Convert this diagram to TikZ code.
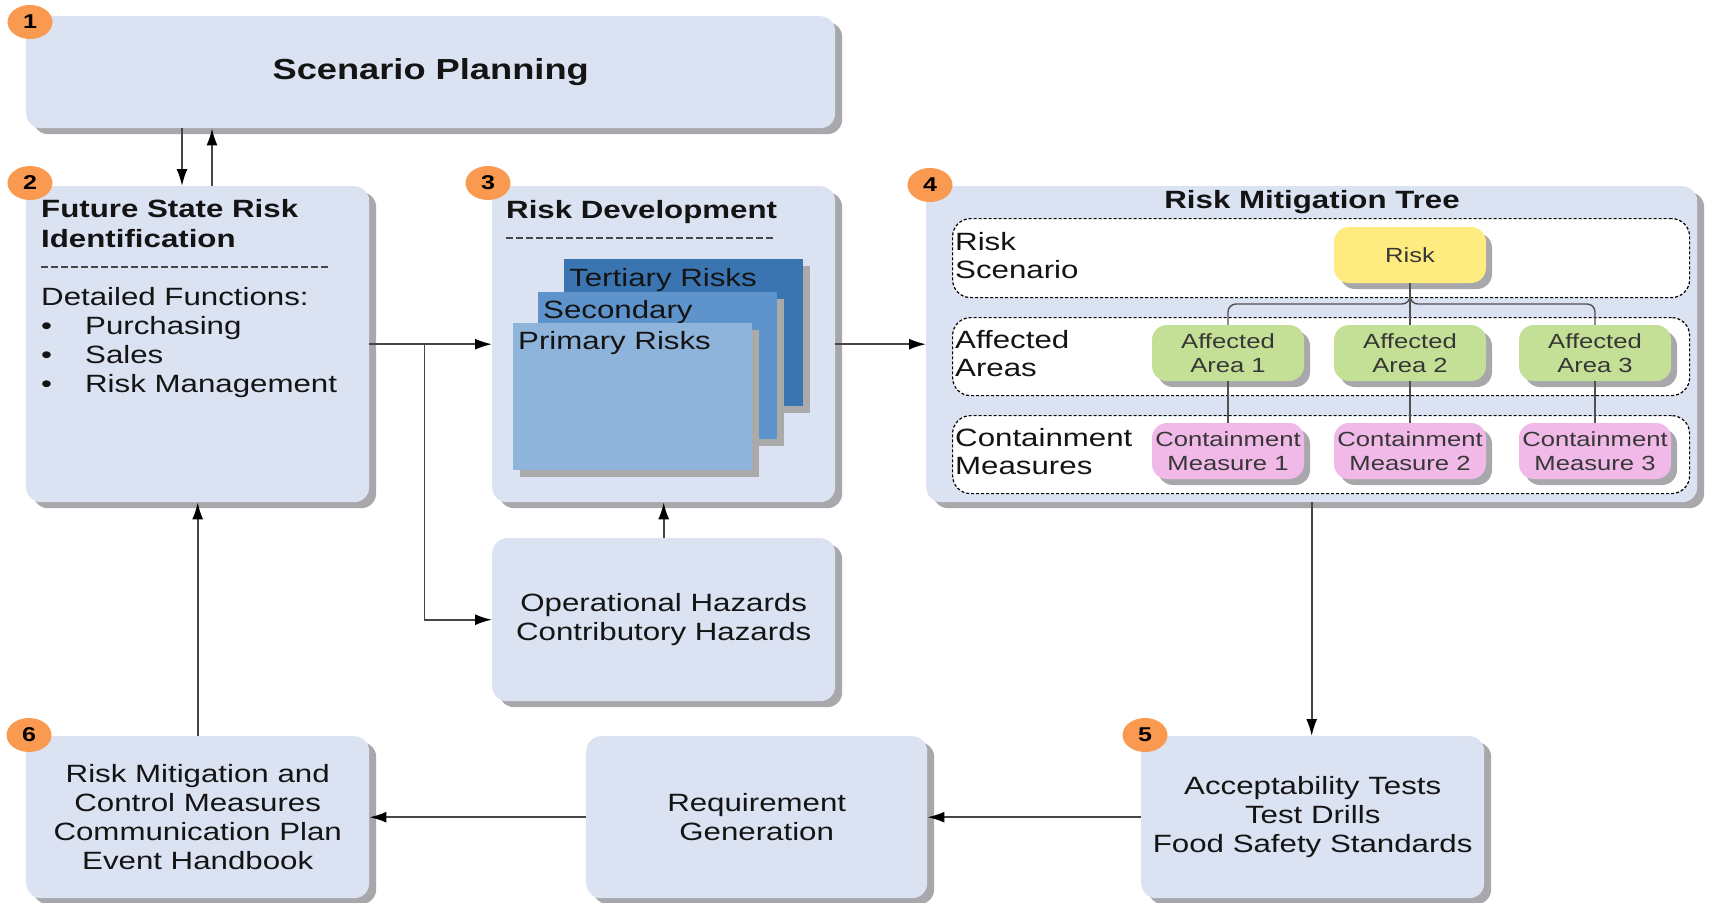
\documentclass[tikz,border=0pt]{standalone}
\usepackage{fontspec}
\setmainfont{Liberation Sans}[FakeStretch=1.25]
\usetikzlibrary{arrows.meta,shapes.geometric,shadows,calc}

\definecolor{boxfill}{RGB}{219,226,242}
\definecolor{boxshadow}{RGB}{168,168,172}
\definecolor{layershadow}{RGB}{170,170,170}
\definecolor{badgefill}{RGB}{250,154,80}
\definecolor{tertblue}{RGB}{58,117,178}
\definecolor{secblue}{RGB}{94,148,203}
\definecolor{primblue}{RGB}{142,180,220}
\definecolor{riskyellow}{RGB}{255,236,128}
\definecolor{areagreen}{RGB}{196,224,150}
\definecolor{measpink}{RGB}{240,185,232}
\definecolor{treegray}{RGB}{80,80,80}
\definecolor{flowgray}{RGB}{70,70,70}
\definecolor{sepgray}{RGB}{70,70,70}
\definecolor{inktext}{RGB}{20,20,20}
\newcommand{\bulitem}{\makebox[44pt][l]{\textbullet}}

\tikzset{
	stage/.style={rectangle, fill=boxfill, rounded corners=15pt, anchor=north west,
		inner sep=0pt, align=center, text=inktext, font=\fontsize{25}{29}\selectfont,
		drop shadow={shadow xshift=7pt, shadow yshift=-6pt, fill=boxshadow, opacity=1}},
	badge/.style={ellipse, fill=badgefill, draw=none,
		minimum width=45pt, minimum height=34pt, inner sep=0pt,
		font=\bfseries\fontsize{20}{20}\selectfont},
	layer/.style={rectangle, anchor=north west, minimum width=239pt, minimum height=147pt,
		drop shadow={shadow xshift=7pt, shadow yshift=-7pt, fill=layershadow, opacity=1}},
	lbl/.style={anchor=north west, inner sep=0pt, text=inktext, font=\fontsize{25}{29}\selectfont},
	row/.style={rectangle, anchor=north west, draw=black, fill=white, line width=1.2pt,
		dash pattern=on 3pt off 2pt, rounded corners=18pt, minimum width=737pt},
	leaf/.style={rectangle, rounded corners=15pt, minimum width=152pt, minimum height=56pt,
		align=center, inner sep=0pt, text=inktext!85, font=\fontsize{20.5}{24}\selectfont,
		drop shadow={shadow xshift=6pt, shadow yshift=-6pt, fill=boxshadow, opacity=1}},
	flow/.style={draw=flowgray, line width=1.8pt, -{Latex[length=17pt,width=11pt,color=black]}},
	branch/.style={draw=treegray, line width=1.4pt},
	sepline/.style={draw=sepgray, line width=1.4pt, dash pattern=on 7pt off 3pt},
}

\begin{document}
\begin{tikzpicture}[x=1pt,y=-1pt]
	\useasboundingbox (0,0) rectangle (1712,902);

	% stages
	\node[stage, minimum width=809pt, minimum height=112pt,
		font=\bfseries\fontsize{29}{34}\selectfont] (plan) at (26,16) {Scenario Planning};
	\node[stage, minimum width=343pt, minimum height=316pt] (ident) at (26,186) {};
	\node[stage, minimum width=343pt, minimum height=316pt] (develop) at (492,186) {};
	\node[stage, minimum width=343pt, minimum height=163pt] (hazard) at (492,538)
		{Operational Hazards\\Contributory Hazards};
	\node[stage, minimum width=771pt, minimum height=316pt] (tree) at (926,186) {};
	\node[stage, minimum width=343pt, minimum height=162pt] (accept) at (1141,736)
		{Acceptability Tests\\Test Drills\\Food Safety Standards};
	\node[stage, minimum width=341pt, minimum height=162pt] (require) at (586,736)
		{Requirement\\Generation};
	\node[stage, minimum width=343pt, minimum height=162pt] (mitig) at (26,736)
		{Risk Mitigation and\\Control Measures\\Communication Plan\\Event Handbook};

	% future state risk identification
	\node[lbl, align=left, font=\bfseries\fontsize{25}{30}\selectfont] (identtitle) at (41,199)
		{Future State Risk\\Identification};
	\draw[sepline] ($(ident.north west)+(15,81)$) -- ($(ident.north west)+(305,81)$);
	\node[lbl, align=left] (identlist) at (41,287)
		{Detailed Functions:\\\bulitem Purchasing\\\bulitem Sales\\\bulitem Risk Management};

	% risk development
	\node[lbl, font=\bfseries\fontsize{25}{30}\selectfont] (devtitle) at (506,200) {Risk Development};
	\draw[sepline] ($(develop.north west)+(14,52)$) -- ($(develop.north west)+(284,52)$);
	\node[layer, fill=tertblue] (tertiary) at (564,259) {};
	\node[lbl] (terttxt) at (569,268) {Tertiary Risks};
	\node[layer, fill=secblue] (secondary) at (538,292) {};
	\node[lbl] (sectxt) at (543,300) {Secondary};
	\node[layer, fill=primblue] (primary) at (513,323) {};
	\node[lbl] (primtxt) at (518,331) {Primary Risks};

	% risk mitigation tree
	\node[lbl, anchor=center, font=\bfseries\fontsize{25}{30}\selectfont] (treetitle) at (1312,202)
		{Risk Mitigation Tree};
	\node[row, minimum height=79pt] (rowscen) at (952,218) {};
	\node[row, minimum height=78pt] (rowarea) at (952,317) {};
	\node[row, minimum height=78pt] (rowcont) at (952,415) {};
	\node[lbl, anchor=west, align=left, font=\fontsize{25}{28}\selectfont] (scenlbl) at (955,256)
		{Risk\\Scenario};
	\node[lbl, anchor=west, align=left, font=\fontsize{25}{28}\selectfont] (arealbl) at (955,354)
		{Affected\\Areas};
	\node[lbl, anchor=west, align=left, font=\fontsize{25}{28}\selectfont] (contlbl) at (955,452)
		{Containment\\Measures};

	\node[leaf, fill=riskyellow] (risk) at (1410,255) {Risk};
	\foreach \n/\x in {1/1228,2/1410,3/1595} {
		\node[leaf, fill=areagreen] (area\n) at (\x,353) {Affected\\Area \n};
		\node[leaf, fill=measpink] (meas\n) at (\x,451) {Containment\\Measure \n};
		\draw[branch] (area\n.south) -- (meas\n.north);
	}
	\coordinate (fork) at ($(risk.south)!0.5!(area2.north)$);
	\draw[branch] (risk.south) -- (area2.north);
	\draw[branch, rounded corners=8pt] (area1.north) |- (fork) -- (risk.south);
	\draw[branch, rounded corners=8pt] (area3.north) |- (fork) -- (risk.south);

	% flow
	\draw[flow] ($(plan.south west)+(156,0)$) -- ($(ident.north west)+(156,0)$);
	\draw[flow] ($(ident.north west)+(186,0)$) -- ($(plan.south west)+(186,0)$);
	\draw[flow] (ident.east) -- (develop.west);
	\draw[flow] ($(ident.east)+(55,0)$) |- (hazard.west);
	\draw[flow] (hazard.north) -- (develop.south);
	\draw[flow] (develop.east) -- (tree.west);
	\draw[flow] (tree.south) -- (tree.south |- accept.north);
	\draw[flow] (accept.west) -- (require.east);
	\draw[flow] (require.west) -- (mitig.east);
	\draw[flow] (mitig.north) -- (ident.south);

	% badges
	\node[badge] (b1) at (30,22) {1};
	\node[badge] (b2) at (30,183) {2};
	\node[badge] (b3) at (488,183) {3};
	\node[badge] (b4) at (930,185) {4};
	\node[badge] (b5) at (1145,735) {5};
	\node[badge] (b6) at (29,735) {6};
\end{tikzpicture}
\end{document}
